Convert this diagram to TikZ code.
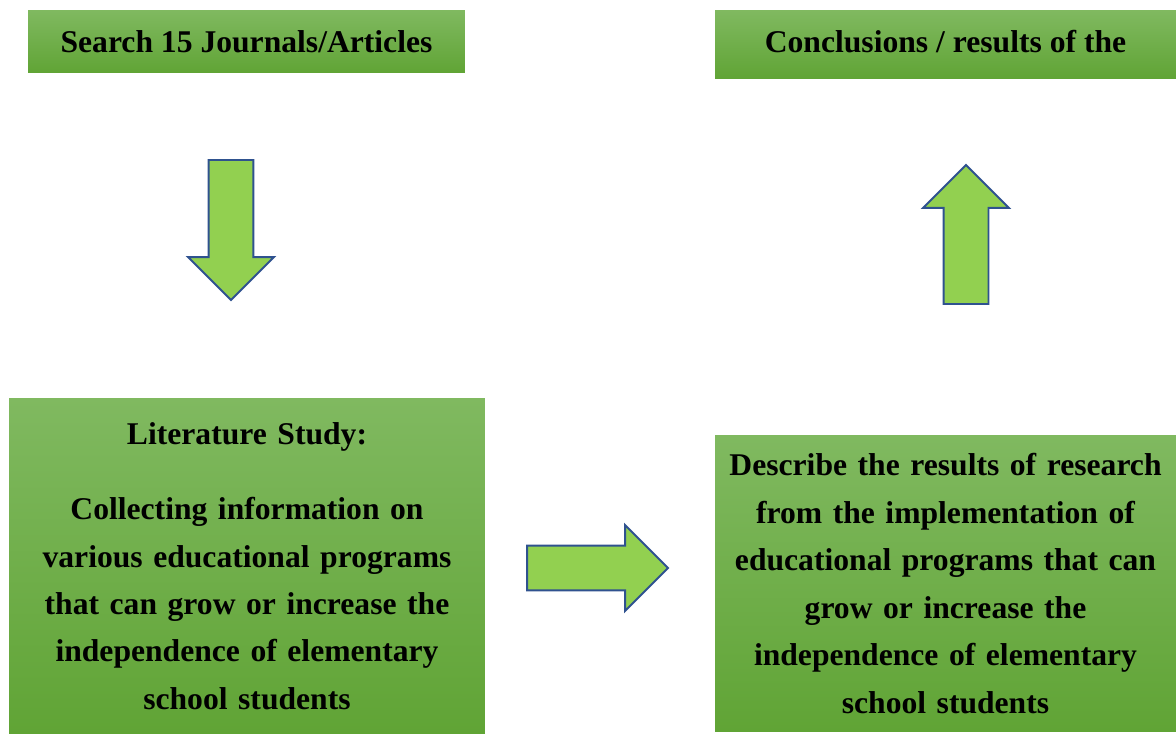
\documentclass[tikz,border=0pt]{standalone}
\usepackage{fontspec}
\setmainfont{Liberation Serif}
\usepackage{tikz}
\usetikzlibrary{shapes.arrows}
\definecolor{g1}{HTML}{80B960}
\definecolor{g2}{HTML}{60A435}
\definecolor{c3}{HTML}{92D050}
\definecolor{c4}{HTML}{2F528F}

\begin{document}
\begin{tikzpicture}[x=0.02cm, y=-0.02cm,
        box/.style={top color=g1, bottom color=g2, inner sep=0pt, align=center,
            font=\fontsize{18}{27}\selectfont\bfseries},
        blockarrow/.style={single arrow, fill=c3, draw=c4, line width=1.1pt,
            inner xsep=0pt, inner ysep=0.43cm, single arrow head extend=0.41cm,
            minimum height=2.8cm, outer sep=0pt, anchor=tip}]
            \useasboundingbox (0, 0) rectangle (1176, 736);
            \node[box, minimum width=8.74cm, minimum height=1.26cm] (search) at (246.5, 41.5) {Search 15 Journals/Articles};
            \node[box, minimum width=9.22cm, minimum height=1.38cm] (concl) at (945.5, 44.5) {\raisebox{3pt}{Conclusions / results of the}};
            \node[box, minimum width=9.52cm, minimum height=6.72cm, text width=9.4cm] (lit) at (247, 566) {Literature Study:\\[16pt]
                Collecting information on\\ various educational programs\\ that can grow or increase the\\ independence of elementary\\ school students};
            \node[box, minimum width=9.22cm, minimum height=5.94cm, text width=9.2cm] (desc) at (945.5, 583.5) {Describe the results of research\\ from the implementation of\\ educational programs that can\\ grow or increase the\\ independence of elementary\\ school students};
            \node[blockarrow, rotate=-90] (down) at (231, 300) {};
            \node[blockarrow, rotate=90, minimum height=2.78cm] (up) at (966, 165) {};
            \node[blockarrow, minimum height=2.82cm] (right) at (668, 568) {};
        \end{tikzpicture}
\end{document}
